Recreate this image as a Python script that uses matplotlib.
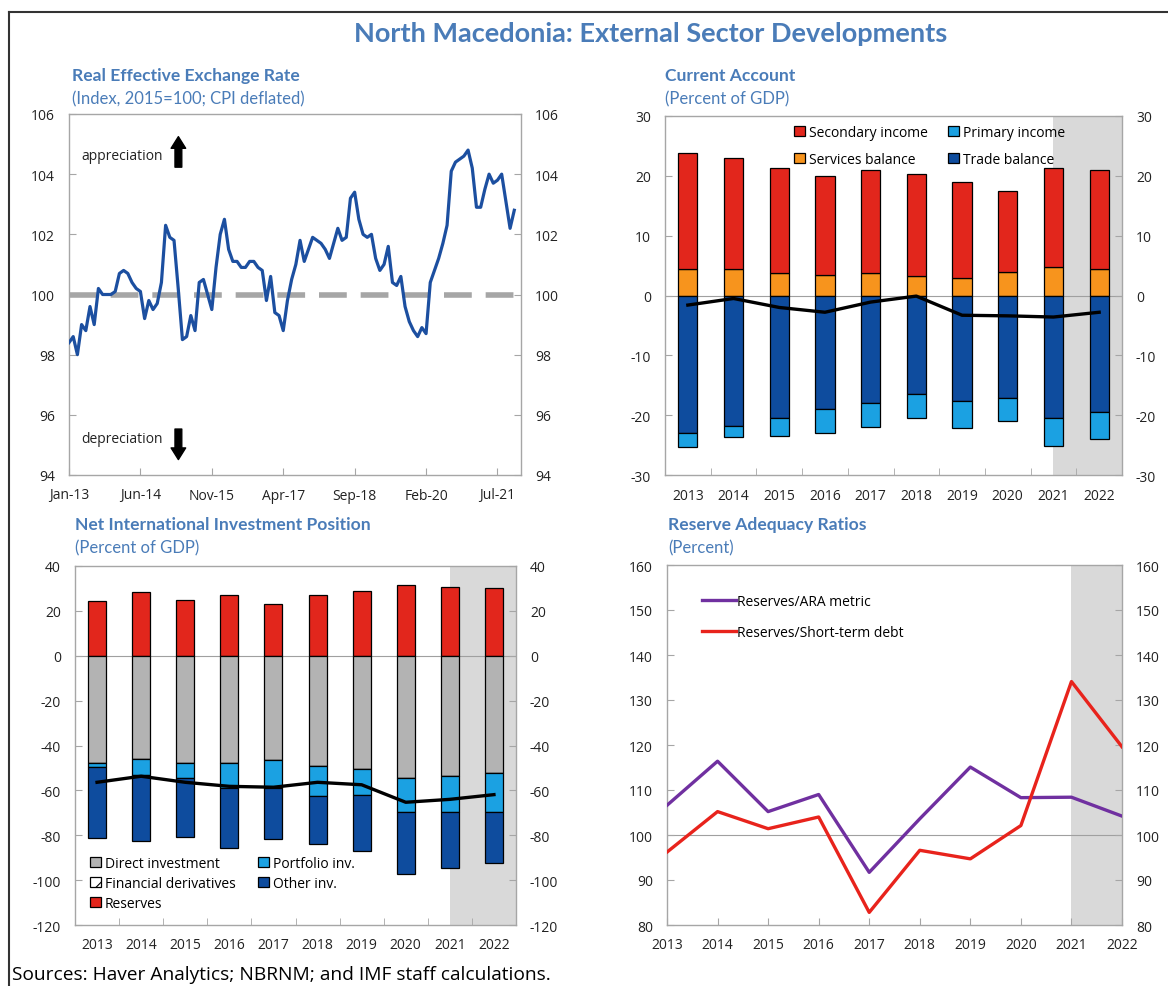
import numpy as np
import matplotlib
matplotlib.use("Agg")
import matplotlib.pyplot as plt
from matplotlib.patches import Patch
from matplotlib.lines import Line2D

plt.rcParams['font.family'] = ['Open Sans', 'DejaVu Sans']
plt.rcParams['hatch.linewidth'] = 0.8
plt.rcParams['axes.unicode_minus'] = False

# ---- data ----
# Real effective exchange rate, monthly Jan-13 .. Nov-21
reer = [98.4, 98.6, 98.0, 99.0, 98.8, 99.6, 99.0, 100.2, 100.0, 100.0,
        100.0, 100.1, 100.7, 100.8, 100.7, 100.4, 100.2, 100.1, 99.2, 99.8,
        99.5, 99.7, 100.4, 102.3, 101.9, 101.8, 100.2, 98.5, 98.6, 99.3,
        98.8, 100.4, 100.5, 100.0, 99.5, 100.9, 102.0, 102.5, 101.5, 101.1,
        101.1, 100.9, 100.9, 101.1, 101.1, 100.9, 100.8, 99.8, 100.6, 99.4,
        99.3, 98.8, 99.8, 100.5, 101.0, 101.8, 101.1, 101.5, 101.9, 101.8,
        101.7, 101.5, 101.2, 101.7, 102.2, 101.8, 101.9, 103.2, 103.4, 102.5,
        102.0, 101.9, 102.0, 101.2, 100.8, 101.0, 101.6, 100.4, 100.3, 100.6,
        99.6, 99.1, 98.8, 98.6, 98.9, 98.7, 100.4, 100.8, 101.2, 101.7,
        102.3, 104.1, 104.4, 104.5, 104.6, 104.8, 104.2, 102.9, 102.9, 103.5,
        104.0, 103.7, 103.8, 104.0, 103.1, 102.2, 102.8]
reer_tick_labels = ['Jan-13', 'Jun-14', 'Nov-15', 'Apr-17', 'Sep-18', 'Feb-20', 'Jul-21']

years = ['2013', '2014', '2015', '2016', '2017', '2018', '2019', '2020', '2021', '2022']

# Current account components (percent of GDP)
secondary_income = [19.4, 18.6, 17.5, 16.4, 17.1, 17.1, 16.0, 13.4, 16.6, 16.6]
services_balance = [4.4, 4.4, 3.8, 3.5, 3.8, 3.2, 2.9, 4.0, 4.7, 4.4]
trade_balance = [-22.9, -21.8, -20.4, -18.9, -17.9, -16.5, -17.6, -17.1, -20.5, -19.4]
primary_income = [-2.5, -1.8, -3.0, -4.0, -4.0, -4.0, -4.6, -3.8, -4.6, -4.5]
current_account = [-1.6, -0.5, -2.0, -2.8, -1.1, -0.1, -3.3, -3.4, -3.6, -2.8]

# NIIP components (percent of GDP)
reserves = [24.2, 28.2, 25.0, 27.0, 23.0, 27.0, 29.0, 31.7, 30.8, 30.0]
direct_inv = [-47.7, -46.0, -47.7, -47.7, -46.6, -49.2, -50.4, -54.5, -53.7, -52.2]
fin_deriv = [0.0, 0.0, 0.0, 0.0, 0.0, 0.0, 0.0, 0.0, 0.0, 0.0]
portfolio_inv = [-1.8, -7.0, -6.8, -11.2, -12.3, -13.5, -11.8, -15.3, -16.1, -17.6]
other_inv = [-31.8, -29.5, -26.5, -26.8, -22.8, -21.1, -24.7, -27.6, -24.9, -22.4]
niip = [-56.4, -53.7, -56.4, -58.2, -58.6, -56.4, -57.5, -65.3, -64.0, -61.9]

# Reserve adequacy (percent)
ra_years = [2013, 2014, 2015, 2016, 2017, 2018, 2019, 2020, 2021, 2022]
ara_metric = [106.6, 116.4, 105.2, 109.0, 91.7, 103.6, 115.1, 108.3, 108.4, 104.2]
st_debt = [96.2, 105.2, 101.4, 104.0, 82.8, 96.6, 94.7, 102.1, 134.1, 119.6]

# ---- styling ----
W, H = 1168, 987
BLUE_T = '#4A7CB8'
SPINE = '#A6A6A6'
SHADE = '#D9D9D9'
C_RED = '#E2261C'
C_ORANGE = '#F7941D'
C_LBLUE = '#1BA1E2'
C_DBLUE = '#0E4C9E'
C_GREY = '#B3B3B3'
TICK_FS = 10


def box(l, t, r, b):
    return [l / W, 1 - b / H, (r - l) / W, (b - t) / H]


def style(ax):
    for s in ax.spines.values():
        s.set_color(SPINE)
        s.set_linewidth(1.0)
    ax.tick_params(axis='y', direction='in', length=5, color=SPINE, left=True, right=True,
                   labelleft=True, labelright=True, labelsize=TICK_FS, pad=10,
                   labelcolor='#222222')
    ax.tick_params(axis='x', direction='in', length=5, color=SPINE, labelsize=TICK_FS, pad=9,
                   labelcolor='#222222')


def titles(x, y, bold, sub):
    fig.text(x / W, 1 - y / H, bold, fontsize=12.6, fontweight='bold', color=BLUE_T,
             family='Lato', va='center', ha='left')
    fig.text(x / W, 1 - (y + 23) / H, sub, fontsize=12, color=BLUE_T,
             family='Lato', va='center', ha='left')


fig = plt.figure(figsize=(W / 100, H / 100), dpi=100)

fig.text(651 / W, 1 - 34 / H, 'North Macedonia: External Sector Developments',
         fontsize=19.5, fontweight='bold', color=BLUE_T, family='Lato', ha='center', va='center')

# outer frame (left and top edges)
fig.add_artist(Line2D([9 / W, 9 / W], [0, 1 - 13 / H], color='#333333', lw=1.5))
fig.add_artist(Line2D([9 / W, 1], [1 - 13 / H, 1 - 13 / H], color='#333333', lw=1.5))

# ---- Real effective exchange rate ----
ax1 = fig.add_axes(box(69, 115, 521, 476))
style(ax1)
months = np.arange(len(reer))
ax1.axhline(100, color='#A6A6A6', lw=4, dashes=(5, 2.5), zorder=1)
ax1.plot(months, reer, color='#1C4FA0', lw=2.3, zorder=3)
ax1.set_xlim(0, 107.6)
ax1.set_ylim(94, 106)
ax1.set_yticks(np.arange(94, 107, 2))
ax1.set_xticks(np.arange(0, 103, 17))
ax1.set_xticklabels(reer_tick_labels)
ax1.text(0.207, 0.884, 'appreciation', transform=ax1.transAxes, ha='right', va='center',
         fontsize=10, family='Open Sans', color='#222222')
ax1.text(0.207, 0.100, 'depreciation', transform=ax1.transAxes, ha='right', va='center',
         fontsize=10, family='Open Sans', color='#222222')
arrow_style = 'simple,head_width=0.75,head_length=0.6,tail_width=0.35'
ax1.annotate('', xy=(0.242, 0.945), xytext=(0.242, 0.845), xycoords='axes fraction',
             arrowprops=dict(arrowstyle=arrow_style, color='black', mutation_scale=14))
ax1.annotate('', xy=(0.242, 0.035), xytext=(0.242, 0.135), xycoords='axes fraction',
             arrowprops=dict(arrowstyle=arrow_style, color='black', mutation_scale=14))
titles(72, 76, 'Real Effective Exchange Rate', '(Index, 2015=100; CPI deflated)')

# ---- Current account ----
ax2 = fig.add_axes(box(665, 117, 1122, 476))
style(ax2)
x = np.arange(len(years))
bw = 0.42
ax2.axvspan(8, 9.6, color=SHADE, zorder=0, lw=0)
ax2.axhline(0, color='#A0A0A0', lw=0.8, zorder=1)
ax2.bar(x, services_balance, bw, color=C_ORANGE, edgecolor='black', lw=0.9, zorder=2,
        label='Services balance')
ax2.bar(x, secondary_income, bw, bottom=services_balance, color=C_RED, edgecolor='black',
        lw=0.9, zorder=2, label='Secondary income')
ax2.bar(x, trade_balance, bw, color=C_DBLUE, edgecolor='black', lw=0.9, zorder=2,
        label='Trade balance')
ax2.bar(x, primary_income, bw, bottom=trade_balance, color=C_LBLUE, edgecolor='black',
        lw=0.9, zorder=2, label='Primary income')
ax2.plot(x, current_account, color='black', lw=2.4, zorder=4)
ax2.set_xlim(-0.5, 9.5)
ax2.set_ylim(-30, 30)
ax2.set_yticks(np.arange(-30, 31, 10))
ax2.set_xticks(x)
ax2.set_xticklabels(years)
ax2.set_xticks(x[:-1] + 0.5, minor=True)
ax2.tick_params(axis='x', which='major', length=0)
ax2.tick_params(axis='x', which='minor', direction='in', length=5, color=SPINE)
h, l = ax2.get_legend_handles_labels()
order = [1, 0, 3, 2]
ax2.legend([h[i] for i in order], [l[i] for i in order], ncol=2, loc='upper left',
           bbox_to_anchor=(0.255, 1.01), frameon=False, handlelength=0.8,
           handleheight=0.8, handletextpad=0.3, columnspacing=1.4, labelspacing=0.85,
           prop={'family': 'Open Sans', 'size': 10})
titles(665, 76, 'Current Account', '(Percent of GDP)')

# ---- NIIP ----
ax3 = fig.add_axes(box(75, 567, 516, 926))
style(ax3)
bw = 0.41
ax3.axvspan(8, 9.6, color=SHADE, zorder=0, lw=0)
ax3.axhline(0, color='#A0A0A0', lw=0.8, zorder=1)
ax3.bar(x, reserves, bw, color=C_RED, edgecolor='black', lw=0.9, zorder=2)
ax3.bar(x, direct_inv, bw, color=C_GREY, edgecolor='black', lw=0.9, zorder=2)
b_fd = np.array(direct_inv)
ax3.bar(x, fin_deriv, bw, bottom=b_fd, color='white', edgecolor='black', lw=0.9, zorder=2)
b_pi = b_fd + np.array(fin_deriv)
ax3.bar(x, portfolio_inv, bw, bottom=b_pi, color=C_LBLUE, edgecolor='black', lw=0.9, zorder=2)
b_oi = b_pi + np.array(portfolio_inv)
ax3.bar(x, other_inv, bw, bottom=b_oi, color=C_DBLUE, edgecolor='black', lw=0.9, zorder=2)
ax3.plot(x, niip, color='black', lw=2.4, zorder=4)
ax3.set_xlim(-0.5, 9.5)
ax3.set_ylim(-120, 40)
ax3.set_yticks(np.arange(-120, 41, 20))
ax3.set_xticks(x)
ax3.set_xticklabels(years)
ax3.set_xticks(x[:-1] + 0.5, minor=True)
ax3.tick_params(axis='x', which='major', length=0)
ax3.tick_params(axis='x', which='minor', direction='in', length=5, color=SPINE)
leg_handles = [Patch(facecolor=C_GREY, edgecolor='black', lw=0.9),
               Patch(facecolor='white', edgecolor='black', lw=0.9, hatch='//'),
               Patch(facecolor=C_RED, edgecolor='black', lw=0.9),
               Patch(facecolor=C_LBLUE, edgecolor='black', lw=0.9),
               Patch(facecolor=C_DBLUE, edgecolor='black', lw=0.9)]
leg_labels = ['Direct investment', 'Financial derivatives', 'Reserves',
              'Portfolio inv.', 'Other inv.']
ax3.legend(leg_handles, leg_labels, ncol=2, loc='lower left', bbox_to_anchor=(0.005, 0.005),
           frameon=False, handlelength=0.8, handleheight=0.8, handletextpad=0.3,
           columnspacing=1.6, labelspacing=0.35, prop={'family': 'Open Sans', 'size': 10})
titles(75, 525, 'Net International Investment Position', '(Percent of GDP)')

# ---- Reserve adequacy ----
ax4 = fig.add_axes(box(667, 566, 1122, 926))
style(ax4)
ax4.axvspan(2021, 2022, color=SHADE, zorder=0, lw=0)
ax4.axhline(100, color='#A0A0A0', lw=0.8, zorder=1)
ax4.plot(ra_years, ara_metric, color='#7030A0', lw=2.4, zorder=3, label='Reserves/ARA metric')
ax4.plot(ra_years, st_debt, color='#E8231C', lw=2.4, zorder=3, label='Reserves/Short-term debt')
ax4.set_xlim(2013, 2022)
ax4.set_ylim(80, 160)
ax4.set_yticks(np.arange(80, 161, 10))
ax4.set_xticks(ra_years)
ax4.set_xticklabels(years)
ax4.legend(loc='upper left', bbox_to_anchor=(0.05, 0.955), frameon=False, handlelength=2.4,
           handletextpad=0.1, labelspacing=1.15, prop={'family': 'Open Sans', 'size': 10})
titles(668, 525, 'Reserve Adequacy Ratios', '(Percent)')

fig.text(12 / W, 1 - 975 / H, 'Sources: Haver Analytics; NBRNM; and IMF staff calculations.',
         fontsize=13.8, family='Open Sans', ha='left', va='center', color='black')

fig.savefig('out.png', dpi=100)
